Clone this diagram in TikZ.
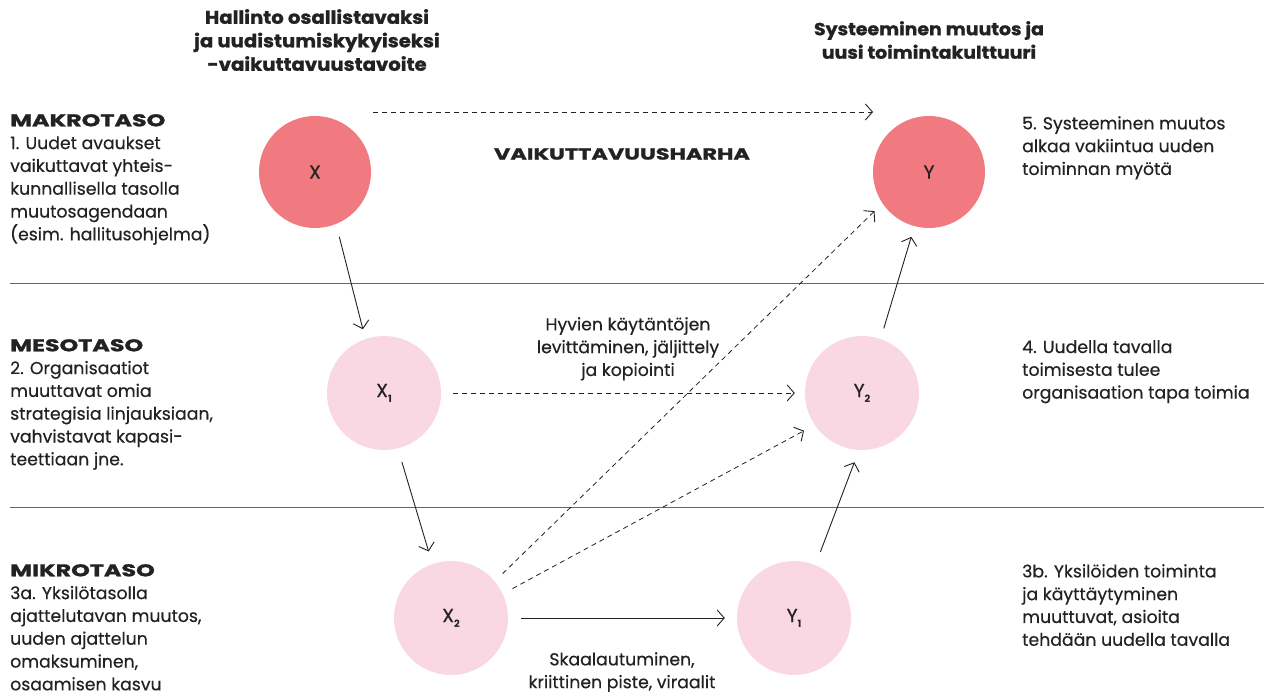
\documentclass[tikz,border=0pt]{standalone}
\usepackage{fontspec}
\setmainfont{Poppins}[UprightFeatures={FakeBold=0.4}]
\newfontfamily\headfont{Poppins}[BoldFeatures={FakeBold=1.2}, FakeStretch=1.08]
\newfontfamily\widefont{Poppins}[BoldFeatures={FakeBold=1.4}, FakeStretch=1.4]
\usetikzlibrary{arrows.meta,calc}

\definecolor{ink}{HTML}{222222}
\definecolor{macro}{HTML}{F07A7F}
\definecolor{soft}{HTML}{F9D8E3}
\definecolor{rule}{HTML}{666666}

\newcommand{\bodyfont}{\fontsize{17.3}{22.8}\selectfont}
\newcommand{\hd}{\headfont\bfseries}
\newcommand{\wideheavy}{\widefont\bfseries}
\newcommand{\sub}[1]{\raisebox{-5pt}{\fontsize{10}{10}\selectfont\bfseries #1}}

\tikzset{
  x=1pt, y=-1pt,
  body/.style={inner sep=0pt, align=left, anchor=north west, text=ink, font=\bodyfont},
  centred/.style={inner sep=0pt, align=center, anchor=north, text=ink, font=\bodyfont},
  big/.style={circle, minimum size=112pt, inner sep=0pt, fill=macro, text=ink, font=\fontsize{19}{19}\selectfont},
  small/.style={circle, minimum size=114pt, inner sep=0pt, fill=soft, text=ink, font=\fontsize{19}{19}\selectfont},
  arr/.style={draw=ink, line width=0.9pt, -{Straight Barb[length=7pt,width=16pt,line width=0.9pt]}},
  darr/.style={arr, line width=0.8pt, dash pattern=on 5pt off 4pt},
}

\begin{document}
\begin{tikzpicture}
\useasboundingbox (0,0) rectangle (1264,692);
\fill[white] (0,0) rectangle (1264,692);

% level separators
\draw[rule, line width=0.7pt] (10,283) -- (1264,283);
\draw[rule, line width=0.7pt] (10,507) -- (1264,507);

% circles
\node[big]   (X)  at (315,172) {X};
\node[big]   (Y)  at (929,172) {Y};
\node[small] (X1) at (384,393) {X\sub{1}};
\node[small] (Y2) at (862,393) {Y\sub{2}};
\node[small] (X2) at (451,618) {X\sub{2}};
\node[small] (Y1) at (794,618) {Y\sub{1}};

% solid flow
\draw[arr, shorten <=13pt, shorten >=10pt] (X.-68) -- (X1.109);
\draw[arr, shorten <=14pt, shorten >=13pt] (X1.-76) -- (X2.109);
\draw[arr, shorten <=13pt, shorten >=12pt] (X2) -- (Y1);
\draw[arr, shorten <=14pt, shorten >=13pt] (Y1.68) -- (Y2.-93);
\draw[arr, shorten <=11pt, shorten >=11pt] (Y2.71) -- (Y.-105);

% dashed flow
\draw[darr] ([shift={(58,-60)}]X.center) -- ([shift={(-56,-60)}]Y.center);
\draw[darr, shorten <=12pt, shorten >=10pt] (X1) -- (Y2);
\draw[darr, shorten <=11pt, shorten >=11pt] (X2.40) -- (Y.214);
\draw[darr, shorten <=11pt, shorten >=12pt] (X2.25) -- (Y2.214);

% column headings
\node[centred, font=\fontsize{18.2}{23.5}\selectfont\hd] (hl) at (317,9)
  {Hallinto osallistavaksi\\ja uudistumiskykyiseksi\\-vaikuttavuustavoite};
\node[centred, font=\fontsize{17.5}{23.5}\selectfont\hd] (hr) at (929,21)
  {Systeeminen muutos ja\\uusi toimintakulttuuri};
\node[centred, font=\fontsize{16}{20}\selectfont\wideheavy] (harha) at (622,148) {VAIKUTTAVUUSHARHA};

% level descriptions, left
\node[body] (makro) at (10,114)
  {{\fontsize{17}{22.8}\selectfont\wideheavy MAKROTASO}\\1. Uudet avaukset\\vaikuttavat yhteis-\\kunnallisella tasolla\\muutosagendaan\\(esim. hallitusohjelma)};
\node[body] (meso) at (10,339)
  {{\fontsize{17}{22.8}\selectfont\wideheavy MESOTASO}\\2. Organisaatiot\\muuttavat omia\\strategisia linjauksiaan,\\vahvistavat kapasi-\\teettiaan jne.};
\node[body] (mikro) at (10,564)
  {{\fontsize{17}{22.8}\selectfont\wideheavy MIKROTASO}\\3a. Yksilötasolla\\ajattelutavan muutos,\\uuden ajattelun\\omaksuminen,\\osaamisen kasvu};

% level descriptions, right
\node[body] (r5) at (1022,116)
  {5. Systeeminen muutos\\alkaa vakiintua uuden\\toiminnan myötä};
\node[body] (r4) at (1022,340)
  {4. Uudella tavalla\\toimisesta tulee\\organisaation tapa toimia};
\node[body] (r3) at (1022,564)
  {3b. Yksilöiden toiminta\\ja käyttäytyminen\\muuttuvat, asioita\\tehdään uudella tavalla};

% connector labels
\node[centred] (spread) at (628,317)
  {Hyvien käytäntöjen\\levittäminen, jäljittely\\ja kopiointi};
\node[centred] (scale) at (622,652)
  {Skaalautuminen,\\kriittinen piste, viraalit};
\end{tikzpicture}
\end{document}
